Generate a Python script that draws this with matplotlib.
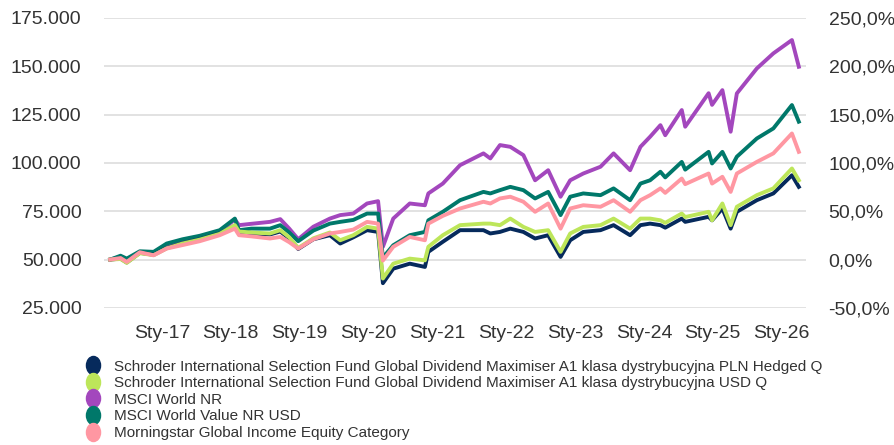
import numpy as np
import matplotlib
matplotlib.use('Agg')
import matplotlib.pyplot as plt
from matplotlib.lines import Line2D
from matplotlib.path import Path

# dates as decimal years (thousands)
dates = [2016.25, 2016.40, 2016.49, 2016.68, 2016.88, 2017.07, 2017.30, 2017.55, 2017.84,
         2018.06, 2018.12, 2018.30, 2018.57, 2018.72, 2018.85, 2018.98, 2019.20, 2019.44,
         2019.59, 2019.78, 2019.98, 2020.14, 2020.21, 2020.36, 2020.60, 2020.82, 2020.87,
         2021.08, 2021.33, 2021.67, 2021.77, 2021.91, 2022.06, 2022.25, 2022.42, 2022.61,
         2022.79, 2022.93, 2023.12, 2023.37, 2023.56, 2023.80, 2023.95, 2024.09, 2024.24,
         2024.31, 2024.55, 2024.60, 2024.94, 2024.99, 2025.14, 2025.26, 2025.35, 2025.64,
         2025.88, 2026.15, 2026.25]

fund_pln = [50.0, 50.5, 48.5, 53.5, 52.5, 56.0, 58.5, 60.5, 63.5,
            67.5, 64.0, 63.5, 63.0, 64.5, 61.0, 55.5, 60.5, 62.6,
            58.3, 61.5, 65.2, 64.3, 37.8, 45.3, 47.9, 46.2, 54.0,
            59.2, 65.2, 65.2, 63.5, 64.3, 66.0, 64.3, 60.9, 62.6,
            51.4, 60.0, 64.3, 65.2, 67.8, 62.6, 67.8, 68.6, 67.8,
            66.5, 71.2, 69.5, 72.1, 70.3, 76.4, 66.0, 74.7, 80.7,
            84.2, 93.6, 87.6]

fund_usd = [50.0, 50.3, 48.3, 53.3, 52.3, 55.8, 58.3, 60.3, 63.3,
            67.8, 64.5, 64.0, 63.5, 65.2, 61.5, 56.0, 61.0, 64.0,
            60.0, 62.6, 66.9, 66.0, 40.2, 47.9, 50.5, 49.6, 56.6,
            62.6, 67.8, 68.6, 68.6, 67.8, 71.2, 66.9, 64.3, 65.2,
            54.0, 63.5, 66.9, 67.8, 71.2, 66.0, 71.2, 71.2, 70.3,
            69.0, 73.8, 72.0, 74.7, 70.3, 79.0, 67.8, 77.3, 83.3,
            86.8, 97.1, 91.0]

msci_world = [50.0, 51.5, 50.0, 53.8, 53.3, 56.5, 59.5, 61.5, 64.5,
              70.7, 67.8, 68.5, 69.5, 70.9, 66.0, 60.5, 67.0, 71.2,
              73.0, 73.8, 79.0, 80.2, 56.6, 71.2, 79.0, 78.1, 84.2,
              89.3, 98.8, 104.9, 102.3, 109.2, 108.3, 104.0, 91.0, 96.2,
              82.5, 91.0, 94.5, 98.0, 104.9, 96.2, 108.3, 113.5, 119.5,
              114.3, 127.3, 118.7, 136.0, 130.0, 137.6, 116.1, 135.9, 148.8,
              156.6, 163.5, 149.7]

msci_value = [50.0, 52.0, 50.5, 54.3, 54.0, 58.3, 60.5, 62.3, 65.2,
              71.2, 65.2, 66.0, 66.0, 67.8, 64.0, 59.5, 65.0, 68.6,
              69.5, 70.5, 73.8, 73.8, 51.0, 57.4, 62.6, 64.3, 70.3,
              74.7, 80.7, 85.0, 84.2, 85.9, 87.6, 85.9, 81.6, 85.0,
              73.0, 82.5, 84.2, 83.3, 86.8, 80.7, 89.3, 91.0, 95.4,
              92.5, 100.5, 96.5, 105.7, 99.7, 105.7, 97.1, 103.2, 112.6,
              117.8, 129.9, 121.3]

category = [50.0, 50.8, 48.8, 53.8, 52.2, 55.7, 57.5, 59.5, 62.6,
            66.0, 62.6, 62.0, 60.9, 61.7, 59.0, 55.7, 60.5, 63.5,
            64.3, 65.5, 69.5, 68.6, 49.5, 56.6, 61.7, 60.0, 68.6,
            72.6, 76.4, 79.9, 79.0, 81.6, 82.5, 79.9, 74.7, 79.0,
            66.0, 76.4, 78.1, 77.3, 80.7, 74.7, 80.7, 83.3, 86.8,
            84.5, 91.9, 89.0, 94.5, 89.3, 92.8, 85.0, 94.5, 100.5,
            104.9, 115.2, 105.7]

names = ['Schroder International Selection Fund Global Dividend Maximiser A1 klasa dystrybucyjna PLN Hedged Q',
         'Schroder International Selection Fund Global Dividend Maximiser A1 klasa dystrybucyjna USD Q',
         'MSCI World NR',
         'MSCI World Value NR USD',
         'Morningstar Global Income Equity Category']
colors = ['#062a5c', '#bde65a', '#a347bd', '#00786a', '#ff97a2']

year_ticks = [2017, 2018, 2019, 2020, 2021, 2022, 2023, 2024, 2025, 2026]
year_labels = ['Sty-17', 'Sty-18', 'Sty-19', 'Sty-20', 'Sty-21', 'Sty-22', 'Sty-23', 'Sty-24', 'Sty-25', 'Sty-26']
left_ticks = [25, 50, 75, 100, 125, 150, 175]
left_labels = ['25.000', '50.000', '75.000', '100.000', '125.000', '150.000', '175.000']
right_ticks = [-50, 0, 50, 100, 150, 200, 250]
right_labels = ['-50,0%', '0,0%', '50,0%', '100,0%', '150,0%', '200,0%', '250,0%']

plt.rcParams['font.family'] = ['Liberation Sans', 'DejaVu Sans']
txt = '#333333'

fig = plt.figure(figsize=(8.95, 4.45), dpi=100)
ax = fig.add_axes([0.116, 0.308, 0.785, 0.652])

series = [fund_pln, fund_usd, msci_world, msci_value, category]
order = [2, 3, 0, 1, 4]
for k in order:
    ax.plot(dates, series[k], color=colors[k], lw=2.8, solid_joinstyle='round', zorder=3 + order.index(k))

ax.set_xlim(2016.157, 2026.36)
ax.set_ylim(25, 175)
ax.set_yticks(left_ticks)
ax.set_yticklabels(left_labels)
ax.set_xticks(year_ticks)
ax.set_xticklabels(year_labels)
ax.grid(axis='y', color='#e2e2e2', lw=1.4)
ax.set_axisbelow(True)
for s in ax.spines.values():
    s.set_visible(False)
ax.tick_params(axis='y', length=0, pad=16, labelsize=14, labelcolor=txt)
ax.tick_params(axis='x', length=0, pad=12, labelsize=14, labelcolor=txt)

ax2 = ax.twinx()
ax2.set_ylim(-50, 250)
ax2.set_yticks(right_ticks)
ax2.set_yticklabels(right_labels)
for s in ax2.spines.values():
    s.set_visible(False)
ax2.tick_params(axis='y', length=0, pad=16, labelsize=14, labelcolor=txt)

# slightly oval legend markers
circ = Path.unit_circle()
oval = Path(circ.vertices * [0.78, 1.0], circ.codes)
handles = [Line2D([], [], ls='none', marker=oval, markersize=13, color=c) for c in colors]
fig.legend(handles, names, loc='upper left', bbox_to_anchor=(0.094, 0.192),
           frameon=False, fontsize=11, labelspacing=0.17, handletextpad=0.75,
           handlelength=1.2, borderaxespad=0, borderpad=0, labelcolor=txt)

fig.savefig('out.png', dpi=100)
